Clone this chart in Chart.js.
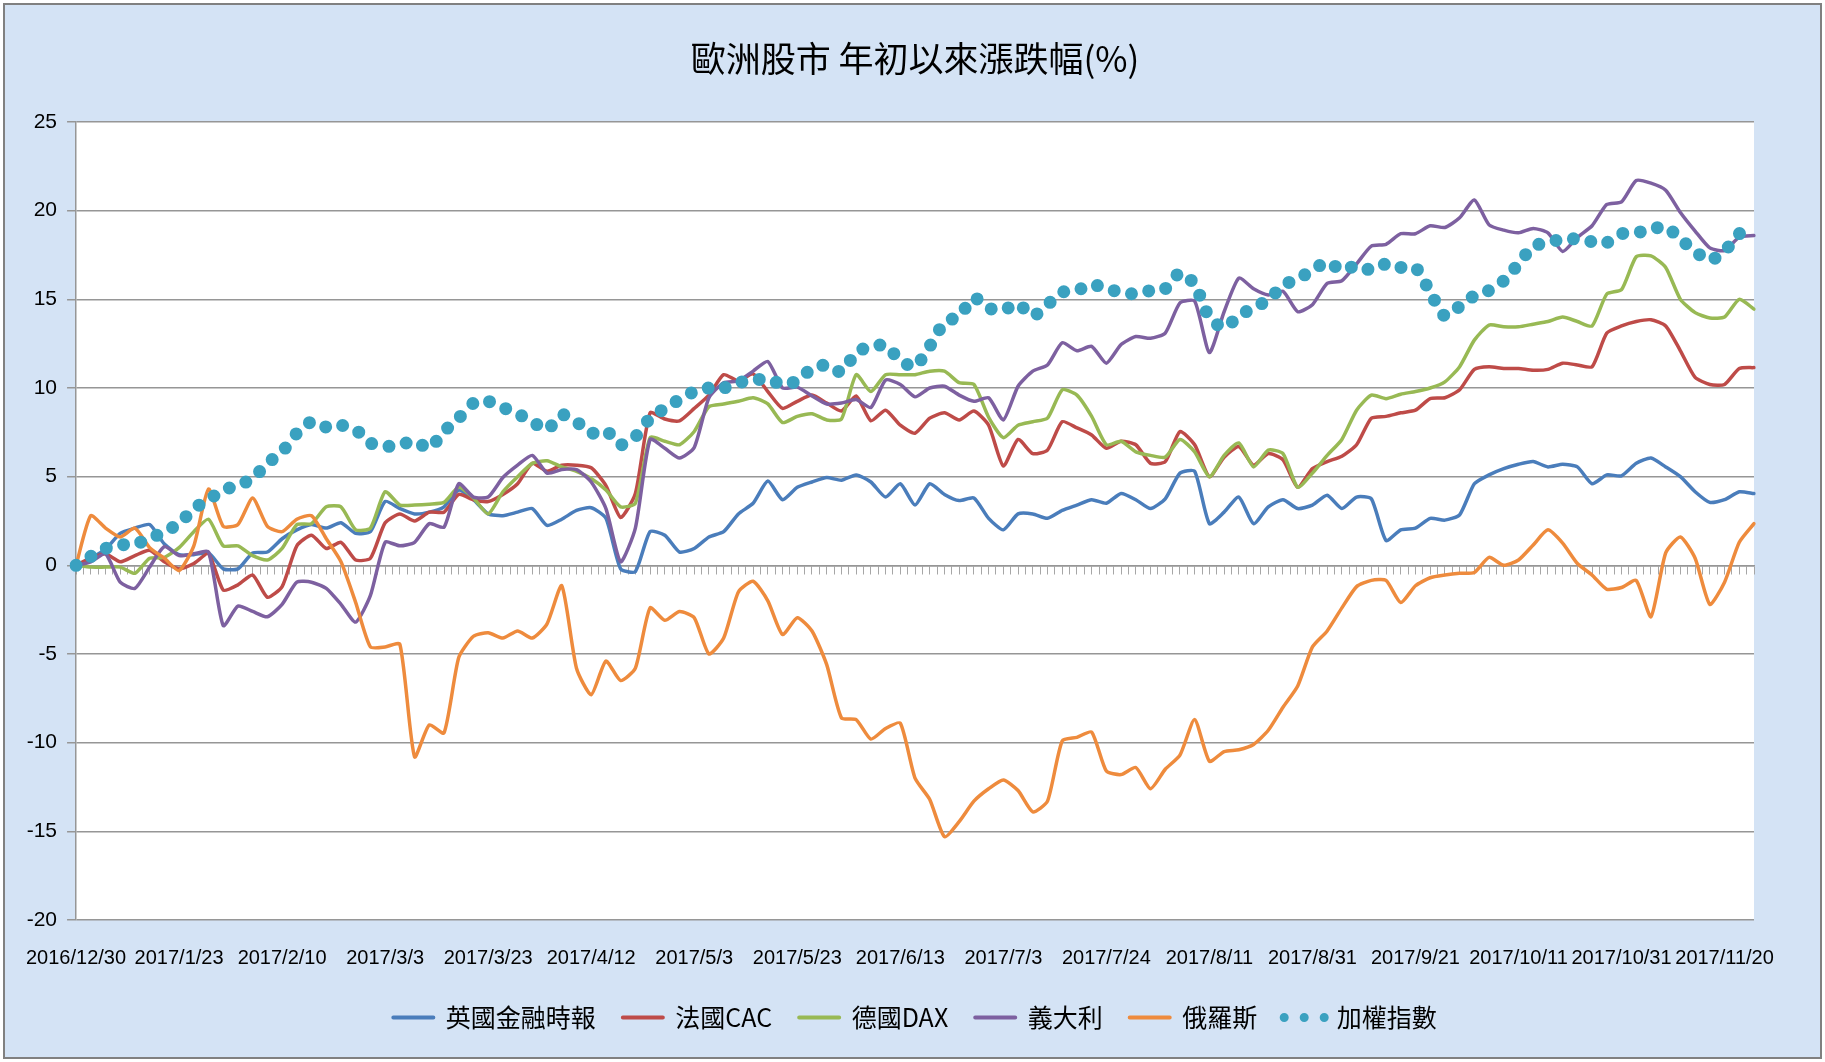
<!DOCTYPE html>
<html>
<head>
<meta charset="utf-8">
<title>歐洲股市年初以來漲跌幅(%)</title>
<script src="https://cdn.jsdelivr.net/npm/chart.js@4.4.1/dist/chart.umd.min.js"></script>
<style>
  html, body { margin: 0; padding: 0; background: #ffffff; }
  #wrap { position: relative; width: 1825px; height: 1062px; }
</style>
</head>
<body>
<div id="wrap"><canvas id="chart"></canvas></div>
<script>
// one value every 2 trading days, a date label every 7th value
const tickLabels = ["2016/12/30", "2017/1/23", "2017/2/10", "2017/3/3", "2017/3/23", "2017/4/12",
    "2017/5/3", "2017/5/23", "2017/6/13", "2017/7/3", "2017/7/24", "2017/8/11", "2017/8/31",
    "2017/9/21", "2017/10/11", "2017/10/31", "2017/11/20"];
const seriesNames = ["英國金融時報", "法國CAC", "德國DAX", "義大利", "俄羅斯", "加權指數"];

const ftse = [0, 0.4, 0.9, 1.8, 2.1, 2.3, 1.2, 0.6, 0.6, 0.7, -0.2, -0.2, 0.7, 0.75, 1.5, 2.0, 2.3, 2.1, 2.4, 1.8,
    1.9, 3.6, 3.2, 2.9, 3.0, 3.3, 4.25, 3.7, 2.9, 2.8, 3.0, 3.2, 2.25, 2.6, 3.1, 3.25, 2.65, -0.2, -0.35, 1.9,
    1.7, 0.75, 0.95, 1.6, 1.9, 2.9, 3.5, 4.75, 3.7, 4.4, 4.7, 4.95, 4.8, 5.1, 4.7, 3.85, 4.6, 3.4, 4.6, 4.0,
    3.65, 3.8, 2.65, 2.0, 2.9, 2.9, 2.65, 3.1, 3.4, 3.7, 3.5, 4.05, 3.7, 3.2, 3.75, 5.2, 5.3, 2.35, 3.0, 3.85,
    2.35, 3.3, 3.7, 3.2, 3.4, 3.95, 3.2, 3.85, 3.75, 1.4, 2.0, 2.1, 2.65, 2.55, 2.85, 4.6, 5.1, 5.45, 5.7, 5.85,
    5.55, 5.7, 5.55, 4.6, 5.1, 5.05, 5.75, 6.05, 5.55, 5.0, 4.15, 3.55, 3.7, 4.15, 4.05];

const cac = [0, 0.4, 0.65, 0.2, 0.55, 0.85, 0.2, -0.2, 0.1, 0.65, -1.4, -1.1, -0.55, -1.8, -1.2, 1.1, 1.7, 0.95, 1.3, 0.3,
    0.4, 2.4, 2.9, 2.5, 3.0, 3.0, 4.0, 3.7, 3.6, 4.0, 4.6, 5.75, 5.3, 5.65, 5.65, 5.5, 4.5, 2.7, 4.05, 8.6,
    8.25, 8.15, 8.85, 9.6, 10.75, 10.4, 10.8, 9.8, 8.85, 9.25, 9.6, 9.15, 8.7, 9.55, 8.15, 8.75, 7.9, 7.45, 8.3, 8.6,
    8.2, 8.7, 7.9, 5.6, 7.1, 6.3, 6.5, 8.1, 7.75, 7.35, 6.6, 7.0, 6.8, 5.75, 5.85, 7.55, 6.8, 5.0, 6.1, 6.7,
    5.65, 6.3, 5.95, 4.4, 5.45, 5.85, 6.15, 6.8, 8.3, 8.4, 8.6, 8.75, 9.4, 9.45, 9.9, 11.05, 11.2, 11.1, 11.1, 11.0,
    11.05, 11.4, 11.3, 11.2, 13.1, 13.5, 13.75, 13.85, 13.5, 12.1, 10.6, 10.2, 10.2, 11.1, 11.15];

const dax = [0, -0.1, -0.1, -0.1, -0.45, 0.4, 0.45, 1.0, 1.9, 2.6, 1.1, 1.1, 0.55, 0.3, 0.95, 2.3, 2.35, 3.3, 3.3, 2.0,
    2.1, 4.15, 3.4, 3.4, 3.45, 3.55, 4.4, 3.8, 2.9, 4.15, 5.0, 5.75, 5.9, 5.55, 5.3, 4.9, 4.25, 3.3, 3.5, 7.2,
    7.0, 6.8, 7.55, 8.95, 9.1, 9.25, 9.45, 9.1, 8.05, 8.4, 8.55, 8.2, 8.25, 10.75, 9.8, 10.75, 10.75, 10.75, 10.95, 10.95,
    10.3, 10.2, 8.35, 7.2, 7.9, 8.1, 8.3, 9.9, 9.6, 8.4, 6.8, 7.0, 6.4, 6.2, 6.1, 7.1, 6.4, 5.0, 6.2, 6.9,
    5.55, 6.5, 6.3, 4.4, 5.2, 6.2, 7.1, 8.75, 9.6, 9.4, 9.65, 9.8, 10.0, 10.35, 11.2, 12.7, 13.55, 13.45, 13.45, 13.6,
    13.75, 14.0, 13.75, 13.5, 15.3, 15.55, 17.4, 17.45, 16.8, 15.0, 14.25, 13.95, 14.0, 15.0, 14.45];

const italy = [0, 0.2, 0.65, -0.95, -1.3, -0.1, 1.05, 0.55, 0.65, 0.75, -3.4, -2.3, -2.6, -2.9, -2.2, -0.95, -0.95, -1.3, -2.2, -3.2,
    -1.7, 1.3, 1.1, 1.3, 2.35, 2.15, 4.6, 3.85, 3.85, 4.95, 5.65, 6.2, 5.2, 5.4, 5.4, 4.7, 3.2, 0.2, 2.1, 7.1,
    6.6, 6.05, 6.65, 9.45, 10.3, 10.4, 10.95, 11.5, 10.0, 10.05, 9.55, 9.1, 9.15, 9.35, 8.9, 10.45, 10.2, 9.5, 10.0, 10.1,
    9.6, 9.25, 9.45, 8.2, 10.1, 10.95, 11.3, 12.55, 12.1, 12.35, 11.4, 12.45, 12.9, 12.8, 13.1, 14.8, 14.9, 12.0, 14.3, 16.2,
    15.6, 15.25, 15.45, 14.3, 14.7, 15.9, 16.05, 17.0, 18.0, 18.1, 18.7, 18.7, 19.15, 19.05, 19.6, 20.6, 19.2, 18.9, 18.75, 19.0,
    18.75, 17.7, 18.5, 19.15, 20.35, 20.5, 21.7, 21.55, 21.15, 19.9, 18.85, 17.9, 17.75, 18.5, 18.6];

const russia = [0, 2.8, 2.1, 1.6, 2.1, 1.0, 0.4, -0.3, 1.1, 4.3, 2.2, 2.3, 3.8, 2.2, 1.9, 2.6, 2.8, 1.5, 0.2, -2.1,
    -4.6, -4.6, -4.45, -10.8, -9.0, -9.45, -5.2, -4.0, -3.8, -4.1, -3.7, -4.1, -3.3, -1.15, -5.8, -7.3, -5.4, -6.5, -5.8, -2.4,
    -3.1, -2.6, -2.95, -5.0, -4.1, -1.5, -0.9, -2.0, -3.9, -2.95, -3.7, -5.6, -8.6, -8.7, -9.8, -9.2, -8.9, -12.0, -13.2, -15.3,
    -14.45, -13.3, -12.6, -12.1, -12.7, -13.9, -13.3, -9.9, -9.7, -9.4, -11.6, -11.8, -11.4, -12.6, -11.5, -10.7, -8.7, -11.05, -10.5, -10.4,
    -10.1, -9.3, -8.0, -6.8, -4.6, -3.7, -2.4, -1.2, -0.85, -0.85, -2.1, -1.15, -0.7, -0.55, -0.45, -0.4, 0.45, 0.0, 0.3, 1.15,
    2.0, 1.25, 0.1, -0.55, -1.35, -1.25, -0.85, -2.9, 0.7, 1.6, 0.4, -2.2, -0.95, 1.3, 2.35];

const taiex = [0, 0.5, 0.95, 1.15, 1.2, 1.5, 1.9, 2.35, 3.2, 3.7, 4.25, 4.5, 4.9, 5.75, 6.4, 7.45, 8.1, 7.8, 7.9, 7.65,
    6.9, 6.7, 6.8, 7.0, 6.6, 7.55, 8.3, 9.15, 9.25, 8.9, 8.55, 8.1, 7.65, 8.5, 8.1, 7.45, 7.6, 6.8, 7.25, 8.3,
    8.85, 9.35, 9.8, 10.0, 10.0, 10.3, 10.45, 10.5, 10.2, 10.4, 11.1, 11.3, 10.9, 12.0, 12.35, 12.4, 11.55, 11.2, 12.35, 13.7,
    14.05, 15.1, 14.5, 14.4, 14.75, 14.05, 14.7, 15.4, 15.5, 15.85, 15.6, 15.4, 15.3, 15.5, 15.6, 16.5, 15.85, 13.95, 13.4, 14.05,
    14.55, 14.95, 15.8, 16.15, 16.65, 17.1, 16.65, 16.9, 16.65, 17.0, 16.8, 16.8, 15.4, 14.05, 14.6, 15.2, 15.5, 16.05, 17.0, 18.0,
    18.2, 18.4, 18.4, 18.25, 18.2, 18.7, 18.75, 18.95, 19.1, 18.4, 17.7, 17.2, 17.7, 18.7, 18.7];

const colors = ["#4a7dbb", "#be4b48", "#98b954", "#7d60a0", "#ee8b3d", "#3aa1c0"];

const STEP = 7;
const labels = ftse.map((v, i) => i % STEP === 0 ? tickLabels[i / STEP] : "");
const tradingDays = (ftse.length - 1) * 2;

const cjk = "'Noto Sans CJK TC', 'Noto Sans CJK SC', sans-serif";
const latin = "'Liberation Sans', Arial, sans-serif";

function lineSet(name, data, color, order) {
    return {
        label: name,
        data: data,
        borderColor: color,
        backgroundColor: color,
        borderWidth: 3.5,
        borderCapStyle: "round",
        borderJoinStyle: "round",
        pointRadius: 0,
        tension: 0.2,
        fill: false,
        order: order
    };
}

// later series sit on top, as in the original
const datasets = [
    lineSet(seriesNames[0], ftse, colors[0], 6),
    lineSet(seriesNames[1], cac, colors[1], 5),
    lineSet(seriesNames[2], dax, colors[2], 4),
    lineSet(seriesNames[3], italy, colors[3], 3),
    lineSet(seriesNames[4], russia, colors[4], 2),
    {
        label: seriesNames[5],
        data: taiex,
        borderColor: colors[5],
        backgroundColor: "rgba(0,0,0,0)",
        borderWidth: 13,
        borderDash: [0, 17.5],
        borderCapStyle: "round",
        pointRadius: 0,
        tension: 0.2,
        fill: false,
        order: 1
    }
];

// textured-paper look is approximated by a flat pale blue; plot area is white
const backdrop = {
    id: "backdrop",
    beforeDraw(chart) {
        const {ctx, width, height, chartArea} = chart;
        ctx.save();
        ctx.fillStyle = "#ffffff";
        ctx.fillRect(0, 0, width, height);
        ctx.fillStyle = "#d4e3f5";
        ctx.fillRect(4, 4, width - 8, height - 8);
        ctx.strokeStyle = "#808080";
        ctx.lineWidth = 2;
        ctx.strokeRect(4, 4, width - 8, height - 8);
        ctx.fillStyle = "#ffffff";
        ctx.fillRect(chartArea.left, chartArea.top, chartArea.right - chartArea.left, chartArea.bottom - chartArea.top);
        ctx.restore();
    }
};

new Chart(document.getElementById("chart"), {
    type: "line",
    data: { labels: labels, datasets: datasets },
    plugins: [backdrop],
    options: {
        responsive: true,
        maintainAspectRatio: false,
        animation: false,
        events: [],
        layout: { padding: { left: 0, right: 71, top: 0, bottom: 22 } },
        scales: {
            x: {
                type: "category",
                grid: { display: false, drawTicks: false },
                border: { display: false },
                ticks: {
                    autoSkip: false,
                    maxRotation: 0,
                    minRotation: 0,
                    padding: 26,
                    color: "#000000",
                    font: { family: latin, size: 20 }
                },
                afterFit(scale) { scale.height = 58; }
            },
            x2: {
                type: "linear",
                position: { y: 0 },
                min: 0,
                max: tradingDays,
                ticks: { display: false, stepSize: 1, maxTicksLimit: 400 },
                grid: { drawOnChartArea: false, drawTicks: true, tickLength: 8, color: "#a6a6a6", lineWidth: 1 },
                border: { display: true, color: "#969696", width: 1.5 }
            },
            y: {
                min: -20,
                max: 25,
                ticks: {
                    stepSize: 5,
                    padding: 10,
                    color: "#000000",
                    font: { family: latin, size: 21 }
                },
                grid: { color: "#969696", lineWidth: 1.5, drawTicks: true, tickLength: 9 },
                border: { display: true, color: "#969696", width: 1.5 },
                afterFit(scale) { scale.width = 72; }
            }
        },
        plugins: {
            title: {
                display: true,
                fullSize: false,
                text: "歐洲股市 年初以來漲跌幅(%)",
                color: "#000000",
                font: { family: cjk, size: 35, weight: "normal" },
                padding: { top: 38, bottom: 42 }
            },
            legend: {
                position: "bottom",
                fullSize: false,
                labels: {
                    color: "#000000",
                    font: { family: cjk, size: 25 },
                    boxWidth: 40,
                    boxHeight: 0,
                    padding: 27,
                    sort: (a, b) => a.datasetIndex - b.datasetIndex,
                    generateLabels(chart) {
                        const items = Chart.defaults.plugins.legend.labels.generateLabels(chart);
                        items.forEach(item => {
                            if (item.datasetIndex === 5) {
                                item.lineWidth = 9;
                                item.lineDash = [0, 20];
                                item.lineCap = "round";
                            } else {
                                item.lineWidth = 4;
                                item.lineCap = "butt";
                            }
                        });
                        return items;
                    }
                }
            },
            tooltip: { enabled: false }
        }
    }
});
</script>
</body>
</html>
